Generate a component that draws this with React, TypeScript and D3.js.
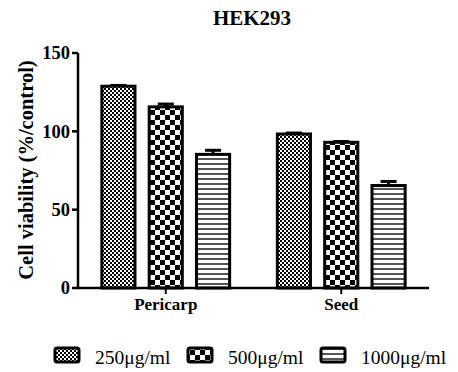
import React from 'react';
import * as d3 from 'd3';

const categories = ['Pericarp', 'Seed'];
const series = ['250μg/ml', '500μg/ml', '1000μg/ml'];
const pericarpValues = [128.8, 115.6, 85.3];
const seedValues = [98.3, 93.0, 65.4];
const pericarpErrors = [0.5, 1.8, 2.6];
const seedErrors = [0.6, 0.5, 2.6];
const yTicks = [0, 50, 100, 150];

const patternIds = ['pat250', 'pat500', 'pat1000'];

const W = 458;
const H = 372;

export default function App() {
  const x = d3.scaleBand<string>().domain(categories).range([78, 429]);
  const inner = d3
    .scaleBand<string>()
    .domain(series)
    .range([-71, 71])
    .paddingInner(0.3)
    .paddingOuter(0.15);
  const y = d3.scaleLinear().domain([0, 150]).range([288, 53]);

  const rows = [
    { cat: 'Pericarp', vals: pericarpValues, errs: pericarpErrors },
    { cat: 'Seed', vals: seedValues, errs: seedErrors },
  ];

  const font = "'Liberation Serif', 'Times New Roman', 'DejaVu Serif', serif";
  const legendX = [54, 187, 320];

  return (
    <svg
      width={W}
      height={H}
      viewBox={`0 0 ${W} ${H}`}
      style={{ position: 'absolute', left: 0, top: 0, background: '#fff', fontFamily: font }}
    >
      <defs>
        <pattern id="pat250" width={4} height={4} patternUnits="userSpaceOnUse">
          <rect width={4} height={4} fill="#fff" />
          <rect width={2} height={2} fill="#000" />
          <rect x={2} y={2} width={2} height={2} fill="#000" />
        </pattern>
        <pattern id="pat500" width={10} height={10} patternUnits="userSpaceOnUse">
          <rect width={10} height={10} fill="#fff" />
          <rect width={5} height={5} fill="#000" />
          <rect x={5} y={5} width={5} height={5} fill="#000" />
        </pattern>
        <pattern id="pat1000" width={5} height={5} patternUnits="userSpaceOnUse">
          <rect width={5} height={5} fill="#fff" />
          <rect y={3} width={5} height={2} fill="#555" />
        </pattern>
      </defs>

      <text x={252} y={25} textAnchor="middle" fontWeight="bold" fontSize={21}>
        HEK293
      </text>

      {/* bars */}
      {rows.map((r) => {
        const cx = (x(r.cat) as number) + x.bandwidth() / 2;
        return (
          <g key={r.cat}>
            {r.vals.map((v, i) => {
              const bx = cx + (inner(series[i]) as number);
              const bw = inner.bandwidth();
              const top = y(v);
              const etop = y(v + r.errs[i]);
              return (
                <g key={i}>
                  <rect
                    x={bx}
                    y={top}
                    width={bw}
                    height={y(0) - top}
                    fill={`url(#${patternIds[i]})`}
                    stroke="#000"
                    strokeWidth={3}
                  />
                  <line x1={bx + bw / 2} x2={bx + bw / 2} y1={top} y2={etop} stroke="#000" strokeWidth={3} />
                  <line x1={bx + bw / 2 - 8} x2={bx + bw / 2 + 8} y1={etop} y2={etop} stroke="#000" strokeWidth={3} />
                </g>
              );
            })}
          </g>
        );
      })}

      {/* y axis */}
      <line x1={78} x2={78} y1={y(150)} y2={y(0)} stroke="#000" strokeWidth={2.5} />
      {yTicks.map((t) => (
        <g key={t}>
          <line x1={72} x2={78} y1={y(t)} y2={y(t)} stroke="#000" strokeWidth={2.5} />
          <text x={70} y={y(t)} dy="0.35em" textAnchor="end" fontWeight="bold" fontSize={18.5}>
            {t}
          </text>
        </g>
      ))}
      <text transform={`translate(33, 170) rotate(-90)`} textAnchor="middle" fontWeight="bold" fontSize={20.5}>
        Cell viability (%/control)
      </text>

      {/* x axis */}
      <line x1={77} x2={429} y1={y(0)} y2={y(0)} stroke="#000" strokeWidth={2.5} />
      {categories.map((c) => {
        const cx = (x(c) as number) + x.bandwidth() / 2;
        return (
          <g key={c}>
            <line x1={cx} x2={cx} y1={y(0)} y2={y(0) + 6} stroke="#000" strokeWidth={2} />
            <text x={cx} y={310} textAnchor="middle" fontWeight="bold" fontSize={17}>
              {c}
            </text>
          </g>
        );
      })}

      {/* legend */}
      {series.map((s, i) => (
        <g key={s}>
          <rect
            x={legendX[i] + 1}
            y={348}
            width={24}
            height={14}
            rx={2}
            fill={`url(#${patternIds[i]})`}
            stroke="#000"
            strokeWidth={3}
          />
          <text x={legendX[i] + 41} y={364} fontSize={19.5}>
            {s}
          </text>
        </g>
      ))}
    </svg>
  );
}
